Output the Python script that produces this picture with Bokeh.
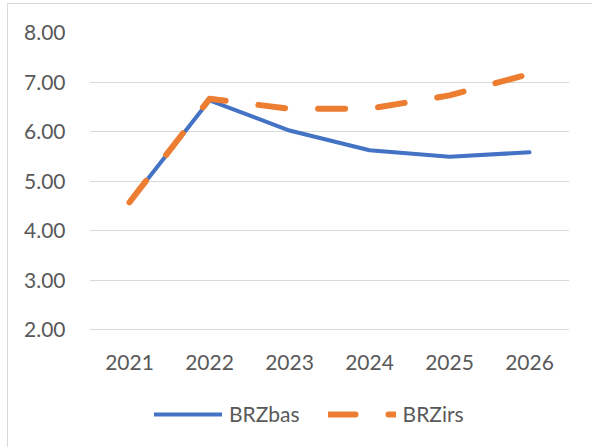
from bokeh.plotting import figure
from bokeh.models import (FactorRange, Range1d, FixedTicker, NumeralTickFormatter,
                          Legend, LegendItem, ColumnDataSource)
from bokeh.embed import file_html
from bokeh.resources import INLINE

years = ["2021", "2022", "2023", "2024", "2025", "2026"]
brzbas = [4.57, 6.63, 6.02, 5.62, 5.49, 5.58]
brzirs = [4.57, 6.66, 6.46, 6.46, 6.73, 7.16]
y_ticks = [2, 3, 4, 5, 6, 7, 8]

FONT = "Lato"
TXT = "#595959"

src = ColumnDataSource(dict(x=years, bas=brzbas, irs=brzirs))

# frame spans from the 8.00 gridline to the bottom of the chart; the category
# axis is pinned at y = 2 so the legend can sit inside the frame below it
p = figure(width=585, height=444, x_range=FactorRange(*years, range_padding=0),
           y_range=Range1d(-0.404, 8), output_backend="svg", toolbar_location=None,
           min_border_left=81, min_border_right=24, min_border_top=28,
           min_border_bottom=0)
p.margin = (3, 0, 0, 7)
p.styles = {"border-left": "1px solid #d9d9d9", "border-top": "1px solid #d9d9d9"}
p.outline_line_color = None
p.background_fill_color = "white"
p.border_fill_color = "white"

r_bas = p.line("x", "bas", source=src, line_color="#4472C4", line_width=4,
               line_join="round", line_cap="round")
r_irs = p.line("x", "irs", source=src, line_color="#ED7D31", line_width=6,
               line_dash="27 33", line_join="round", line_cap="round")

p.xgrid.grid_line_color = None
p.ygrid.grid_line_color = "#d9d9d9"
p.ygrid.grid_line_width = 1
p.yaxis.ticker = FixedTicker(ticks=y_ticks)
p.yaxis.formatter = NumeralTickFormatter(format="0.00")
p.xaxis.fixed_location = 2

for ax in (p.xaxis[0], p.yaxis[0]):
    ax.axis_line_color = None
    ax.major_tick_line_color = None
    ax.minor_tick_line_color = None
    ax.major_label_text_font = FONT
    ax.major_label_text_font_size = "21px"
    ax.major_label_text_color = TXT
p.yaxis.major_label_standoff = 18
p.xaxis.major_label_standoff = 19

legend = Legend(items=[LegendItem(label="BRZbas", renderers=[r_bas]),
                       LegendItem(label="BRZirs", renderers=[r_irs])],
                orientation="horizontal", location=(65, 22),
                padding=0, margin=0, spacing=28, glyph_width=68, glyph_height=20,
                label_height=20, label_standoff=7,
                label_text_font=FONT, label_text_font_size="21px",
                label_text_color=TXT, border_line_color=None,
                background_fill_alpha=0)
p.add_layout(legend, "center")

open("out.html", "w").write(file_html(p, INLINE))
